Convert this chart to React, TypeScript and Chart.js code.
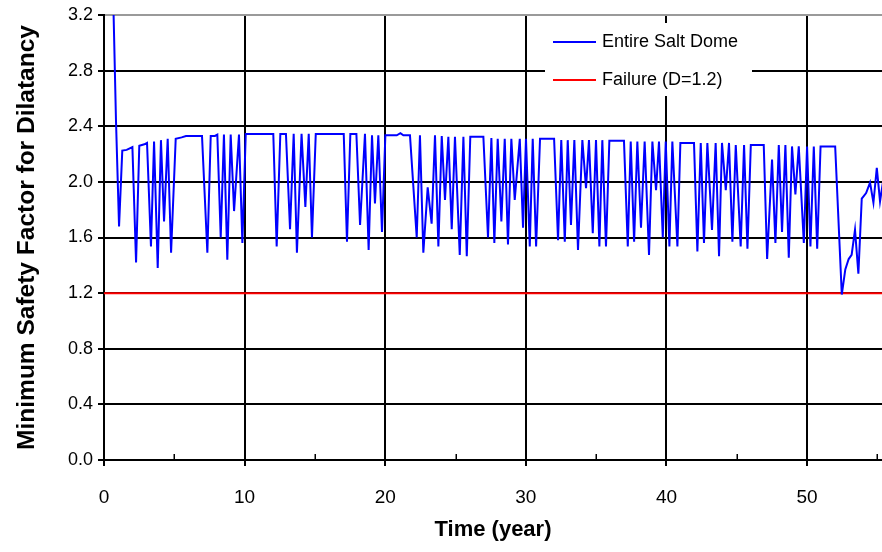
import React, { useEffect, useRef } from 'react';
import { Chart, registerables } from 'chart.js';

Chart.register(...registerables);

// Simulation time (years) and minimum safety factor against dilatancy
const timeYears = [
  0.55, 0.85, 1.07, 1.3, 1.61, 2.02, 2.28, 2.51, 2.87, 3.06, 3.34, 3.56, 3.82, 4.05, 4.27, 4.53, 4.77,
  5.1, 5.52, 5.83, 6.97, 7.35, 7.59, 7.89, 8.06, 8.3, 8.53, 8.77, 9.01, 9.25, 9.6, 9.84, 10.08,
  12.04, 12.28, 12.54, 12.94, 13.23, 13.49, 13.72, 14.05, 14.32, 14.56, 14.79, 15.06,
  17.05, 17.28, 17.52, 17.95, 18.21, 18.56, 18.82, 19.06, 19.27, 19.51, 19.77, 20.01,
  20.82, 21.08, 21.29, 21.76, 22.24, 22.47, 22.71, 23.02, 23.3, 23.54, 23.78, 24.02, 24.25, 24.49,
  24.73, 24.96, 25.3, 25.56, 25.8, 26.05, 26.98, 27.31, 27.55, 27.76, 28.0, 28.26, 28.5, 28.73,
  28.97, 29.21, 29.57, 29.8, 30.01, 30.28, 30.49, 30.73, 31.01, 32.01, 32.29, 32.52, 32.77, 32.98,
  33.21, 33.45, 33.71, 34.02, 34.28, 34.49, 34.76, 34.99, 35.23, 35.44, 35.7, 35.94, 36.98, 37.25,
  37.46, 37.7, 37.93, 38.19, 38.45, 38.76, 39.0, 39.26, 39.47, 39.74, 39.95, 40.21, 40.42, 40.78,
  40.99, 41.96, 42.2, 42.44, 42.67, 42.91, 43.24, 43.5, 43.74, 43.95, 44.22, 44.45, 44.69, 44.93,
  45.28, 45.52, 45.76, 46.0, 46.92, 47.16, 47.51, 47.75, 47.99, 48.22, 48.46, 48.7, 48.93, 49.17,
  49.41, 49.77, 50.0, 50.24, 50.48, 50.72, 50.96, 52.0, 52.47, 52.72, 52.96, 53.17, 53.41, 53.65,
  53.89, 54.2, 54.48, 54.72, 54.96, 55.19, 55.4,
];

const safetyFactor = [
  3.8, 2.45, 1.68, 2.225, 2.23, 2.25, 1.42, 2.26, 2.27, 2.28, 1.535, 2.29, 1.38, 2.3, 1.715, 2.31, 1.49,
  2.31, 2.32, 2.33, 2.33, 1.49, 2.33, 2.33, 2.34, 1.6, 2.34, 1.44, 2.34, 1.79, 2.34, 1.56, 2.345,
  2.345, 1.535, 2.345, 2.345, 1.66, 2.345, 1.49, 2.345, 1.82, 2.345, 1.6, 2.345,
  2.345, 1.57, 2.345, 2.345, 1.69, 2.345, 1.51, 2.335, 1.845, 2.335, 1.64, 2.335,
  2.335, 2.35, 2.335, 2.335, 1.6, 2.335, 1.49, 1.96, 1.7, 2.335, 1.535, 2.33, 1.87, 2.325,
  1.66, 2.325, 1.475, 2.325, 1.465, 2.325, 2.325, 1.6, 2.315, 1.56, 2.31, 1.715, 2.31, 1.55,
  2.31, 1.87, 2.31, 1.67, 2.31, 1.535, 2.31, 1.535, 2.31, 2.31, 1.58, 2.3, 1.57, 2.3,
  1.69, 2.3, 1.51, 2.3, 1.955, 2.3, 1.63, 2.3, 1.535, 2.3, 1.535, 2.295, 2.295, 1.535,
  2.29, 1.57, 2.29, 1.67, 2.29, 1.475, 2.29, 1.94, 2.29, 1.6, 2.29, 1.535, 2.29, 1.535,
  2.28, 2.28, 1.5, 2.28, 1.56, 2.28, 1.655, 2.28, 1.465, 2.28, 1.94, 2.28, 1.57, 2.265,
  1.535, 2.265, 1.52, 2.265, 2.265, 1.445, 2.16, 1.56, 2.265, 1.64, 2.265, 1.455, 2.255, 1.91,
  2.255, 1.56, 2.255, 1.535, 2.255, 1.52, 2.255, 2.255, 1.19, 1.37, 1.445, 1.475, 1.655, 1.34,
  1.88, 1.92, 1.995, 1.85, 2.1, 1.86, 2.0,
];

const failureLevel = 1.2;
const seriesLabels = ['Entire Salt Dome', 'Failure (D=1.2)'];
const seriesColors = ['#0000ff', '#ff0000'];

const xMin = 0;
const xMax = 55.33;
const xMajorTicks = [0, 10, 20, 30, 40, 50];
const xMinorTicks = [5, 15, 25, 35, 45, 55];
const yTicks = [0, 0.4, 0.8, 1.2, 1.6, 2.0, 2.4, 2.8, 3.2];
const yTickLabels = ['0.0', '0.4', '0.8', '1.2', '1.6', '2.0', '2.4', '2.8', '3.2'];

const FONT = '"Liberation Sans", Arial, Helvetica, sans-serif';

const isMajorX = (v: number) => xMajorTicks.some((m) => Math.abs(m - v) < 1e-6);
const isTopY = (v: number) => Math.abs(v - yTicks[yTicks.length - 1]) < 1e-6;

// Short inward tick marks at the half-decade positions of the time axis
const minorTickPlugin = {
  id: 'minorTicks',
  afterDraw(chart: any) {
    const { ctx, scales, chartArea } = chart;
    const xs = scales.x;
    ctx.save();
    ctx.strokeStyle = '#000';
    ctx.lineWidth = 1.5;
    xMinorTicks.forEach((v) => {
      const px = Math.round(xs.getPixelForValue(v)) + 0.25;
      ctx.beginPath();
      ctx.moveTo(px, chartArea.bottom);
      ctx.lineTo(px, chartArea.bottom - 6);
      ctx.stroke();
    });
    ctx.restore();
  },
};

// Legend box sitting inside the plot, over the grid
const insetLegendPlugin = {
  id: 'insetLegend',
  afterDatasetsDraw(chart: any) {
    const { ctx } = chart;
    ctx.save();
    ctx.fillStyle = '#ffffff';
    ctx.fillRect(545, 23, 207, 73);
    chart.data.datasets.forEach((ds: any, i: number) => {
      const y = 42 + i * 38;
      ctx.strokeStyle = ds.borderColor;
      ctx.lineWidth = 2;
      ctx.beginPath();
      ctx.moveTo(553, y);
      ctx.lineTo(596, y);
      ctx.stroke();
      ctx.fillStyle = '#000';
      ctx.font = `18px ${FONT}`;
      ctx.textBaseline = 'middle';
      ctx.textAlign = 'left';
      ctx.fillText(ds.label, 602, y);
    });
    ctx.restore();
  },
};

export default function App() {
  const canvasRef = useRef<HTMLCanvasElement>(null);

  useEffect(() => {
    if (!canvasRef.current) return;
    const chart = new Chart(canvasRef.current, {
      type: 'line',
      data: {
        datasets: [
          {
            label: seriesLabels[0],
            data: timeYears.map((t, i) => ({ x: t, y: safetyFactor[i] })),
            borderColor: seriesColors[0],
            backgroundColor: seriesColors[0],
            borderWidth: 2,
            pointRadius: 0,
            tension: 0,
            fill: false,
          },
          {
            label: seriesLabels[1],
            data: [
              { x: xMin, y: failureLevel },
              { x: xMax, y: failureLevel },
            ],
            borderColor: seriesColors[1],
            backgroundColor: seriesColors[1],
            borderWidth: 2,
            pointRadius: 0,
            tension: 0,
            fill: false,
          },
        ],
      },
      options: {
        responsive: false,
        animation: false,
        devicePixelRatio: 1,
        layout: { padding: { top: 15, left: 0, right: 0, bottom: 0 } },
        plugins: {
          legend: { display: false },
          tooltip: { enabled: false },
        },
        scales: {
          x: {
            type: 'linear',
            min: xMin,
            max: xMax,
            afterBuildTicks: (scale: any) => {
              scale.ticks = [...xMajorTicks, ...xMinorTicks]
                .sort((a, b) => a - b)
                .map((v) => ({ value: v }));
            },
            afterFit: (scale: any) => {
              scale.height = 92;
              scale.paddingLeft = 0;
              scale.paddingRight = 0;
            },
            ticks: {
              autoSkip: false,
              maxRotation: 0,
              minRotation: 0,
              padding: 20,
              color: '#000',
              font: { family: FONT, size: 19 },
              callback: (v: any) => (isMajorX(Number(v)) ? String(v) : ''),
            },
            grid: {
              color: (c: any) => (c.tick && isMajorX(c.tick.value) ? '#000' : 'rgba(0,0,0,0)'),
              lineWidth: 2,
              tickLength: 6,
              drawTicks: true,
            },
            border: { color: '#000', width: 2 },
            title: {
              display: true,
              text: 'Time (year)',
              color: '#000',
              font: { family: FONT, size: 22, weight: 'bold' },
              padding: { top: 0, bottom: 9 },
            },
          },
          y: {
            type: 'linear',
            min: yTicks[0],
            max: yTicks[yTicks.length - 1],
            afterBuildTicks: (scale: any) => {
              scale.ticks = yTicks.map((v) => ({ value: v }));
            },
            afterFit: (scale: any) => {
              scale.width = 104;
              scale.paddingTop = 0;
              scale.paddingBottom = 0;
            },
            ticks: {
              padding: 5,
              color: '#000',
              font: { family: FONT, size: 18 },
              callback: (_v: any, i: number) => yTickLabels[i],
            },
            grid: {
              color: (c: any) => (c.tick && isTopY(c.tick.value) ? '#9a9a9a' : '#000'),
              tickColor: '#000',
              lineWidth: 2,
              tickLength: 6,
            },
            border: { color: '#000', width: 2 },
            title: {
              display: true,
              text: 'Minimum Safety Factor for Dilatancy',
              color: '#000',
              font: { family: FONT, size: 24.5, weight: 'bold' },
              padding: { top: 13, bottom: 0 },
            },
          },
        },
      },
      plugins: [minorTickPlugin, insetLegendPlugin],
    } as any);
    return () => chart.destroy();
  }, []);

  return (
    <div style={{ position: 'fixed', left: 0, top: 0, width: 882, height: 552, background: '#fff' }}>
      <canvas
        ref={canvasRef}
        width={882}
        height={552}
        style={{ display: 'block', width: 882, height: 552 }}
      />
    </div>
  );
}
